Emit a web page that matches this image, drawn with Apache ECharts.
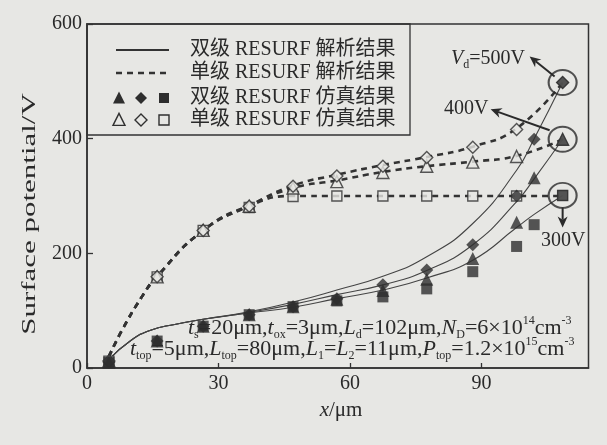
<!DOCTYPE html>
<html>
<head>
<meta charset="utf-8">
<script src="https://cdn.jsdelivr.net/npm/echarts@6/dist/echarts.min.js"></script>
<style>
  html, body { margin: 0; padding: 0; background: #e7e7e4; }
  #main { width: 607px; height: 445px; }
</style>
</head>
<body>
<div id="main"></div>
<script>
// Positions along the drift region (μm) where the simulated potential was sampled
const xSingleSim = [5, 16, 26.5, 37, 47, 57, 67.5, 77.5, 88, 98, 108.5];
const xDoubleSim = [5, 16, 26.5, 37, 47, 57, 67.5, 77.5, 88, 98, 102, 108.5];

// Single RESURF, simulation (V) at Vd = 500 / 400 / 300 V
const singleSim500 = [12, 159, 240, 282, 317, 335, 352, 367, 385, 416, 498];
const singleSim400 = [12, 159, 240, 282, 314, 325, 341, 352, 359, 369, 399];
const singleSim300 = [12, 159, 240, 280, 299, 300, 300, 300, 300, 300, 301];

// Double RESURF, simulation (V)
const doubleSim500 = [10, 47, 73, 93, 107, 121, 145, 171, 215, 300, 399, 498];
const doubleSim400 = [10, 47, 73, 93, 107, 120, 135, 155, 191, 254, 332, 399];
const doubleSim300 = [10, 47, 73, 93, 107, 117, 124, 138, 168, 212, 250, 301];

// Single RESURF, analytic model
const xSingleModel = [5, 8, 12.5, 16, 26.5, 37, 47, 57, 67.5, 77.5, 88, 98, 108.5];
const singleModel500 = [20, 66, 124, 160, 240, 283, 318, 337, 354, 368, 386, 418, 498];
const singleModel400 = [20, 66, 124, 160, 240, 283, 314, 327, 342, 352, 360, 370, 399];
const singleModel300 = [20, 66, 124, 160, 240, 283, 300, 300, 300, 300, 300, 300, 300];

// Double RESURF, analytic model
const xDoubleModel = [5, 10, 14.5, 20, 26.5, 37, 47, 57, 67.5, 77.5, 88, 98, 102, 108.5];
const doubleModel500 = [15, 48, 66, 76, 85, 98, 115, 136, 160, 194, 252, 345, 400, 498];
const doubleModel400 = [15, 48, 66, 76, 85, 97, 111, 128, 145, 170, 215, 290, 330, 399];
const doubleModel300 = [15, 48, 66, 76, 85, 96, 106, 121, 136, 157, 188, 245, 268, 301];

// Axis ticks
const xTicks = [0, 30, 60, 90];
const yTicks = [0, 200, 400, 600];

const INK = '#2a2a2a';
const BG = '#e7e7e4';
const SERIF = "'Liberation Serif','Noto Sans CJK SC'";

function pairs(xs, ys) { return xs.map((x, i) => [x, ys[i]]); }

function modelLine(name, xs, ys, dashed) {
  return {
    name, type: 'line', data: pairs(xs, ys), showSymbol: false, symbol: 'none',
    smooth: 0.5, z: 2,
    lineStyle: dashed ? { color: '#333', width: 2.6, type: [6, 5] } : { color: '#444', width: 1.1 }
  };
}
function simPoints(name, xs, ys, symbol, filled, size, z) {
  return {
    name, type: 'scatter', data: pairs(xs, ys), symbol, symbolSize: size, z,
    itemStyle: filled ? { color: '#2e2e2e' } : { color: BG, borderColor: '#303030', borderWidth: 1.4 }
  };
}

const chart = echarts.init(document.getElementById('main'), null, { renderer: 'canvas' });

const last = a => a[a.length - 1];
const ringData = [
  [last(xDoubleSim), last(doubleSim500)],
  [last(xDoubleSim), last(doubleSim400)],
  [last(xDoubleSim), last(doubleSim300)]
];

const option = {
  animation: false,
  backgroundColor: BG,
  grid: { left: 87, right: 18.5, top: 24, bottom: 77, show: true, borderColor: '#333', borderWidth: 1.5, backgroundColor: 'transparent' },
  xAxis: {
    type: 'value', min: 0, max: 114.4, interval: 30,
    axisLine: { lineStyle: { color: '#333', width: 1.5 } },
    axisTick: { inside: true, length: 5, lineStyle: { color: '#333', width: 1.3 } },
    axisLabel: {
      color: INK, fontFamily: SERIF, fontSize: 20, margin: 6, showMaxLabel: false,
      formatter: v => (xTicks.indexOf(v) >= 0 ? String(v) : '')
    },
    splitLine: { show: false }
  },
  yAxis: {
    type: 'value', min: 0, max: 600, interval: 200,
    axisLine: { lineStyle: { color: '#333', width: 1.5 } },
    axisTick: { inside: true, length: 6, lineStyle: { color: '#333', width: 1.3 } },
    axisLabel: {
      color: INK, fontFamily: SERIF, fontSize: 20, margin: 5,
      formatter: v => (yTicks.indexOf(v) >= 0 ? String(v) : '')
    },
    splitLine: { show: false }
  },
  series: [
    modelLine('单级 500V 解析', xSingleModel, singleModel500, true),
    modelLine('单级 400V 解析', xSingleModel, singleModel400, true),
    modelLine('单级 300V 解析', xSingleModel, singleModel300, true),
    modelLine('双级 500V 解析', xDoubleModel, doubleModel500, false),
    modelLine('双级 400V 解析', xDoubleModel, doubleModel400, false),
    modelLine('双级 300V 解析', xDoubleModel, doubleModel300, false),
    simPoints('单级 300V 仿真', xSingleSim, singleSim300, 'rect', false, 10, 3),
    simPoints('单级 400V 仿真', xSingleSim, singleSim400, 'triangle', false, 12, 3),
    simPoints('单级 500V 仿真', xSingleSim, singleSim500, 'diamond', false, 12, 3),
    simPoints('双级 300V 仿真', xDoubleSim, doubleSim300, 'rect', true, 11, 4),
    simPoints('双级 400V 仿真', xDoubleSim, doubleSim400, 'triangle', true, 13, 4),
    simPoints('双级 500V 仿真', xDoubleSim, doubleSim500, 'diamond', true, 13, 4),
    {
      name: 'Vd', type: 'scatter', data: ringData, symbol: 'circle', symbolSize: [28, 25], z: 5,
      itemStyle: { color: 'rgba(0,0,0,0)', borderColor: '#2a2a2a', borderWidth: 2 }
    }
  ]
};
chart.setOption(option);

// ---- legend, labels and annotations ----
const g = [];

// legend frame shares the plot's top-left corner
g.push({ type: 'rect', shape: { x: 87, y: 24, width: 323, height: 111 }, style: { fill: 'none', stroke: '#333', lineWidth: 1.3 }, z: 10 });
g.push({ type: 'line', shape: { x1: 116, y1: 50, x2: 169, y2: 50 }, style: { stroke: '#333', lineWidth: 2 }, z: 10 });
g.push({ type: 'line', shape: { x1: 116, y1: 73, x2: 169, y2: 73 }, style: { stroke: '#333', lineWidth: 2.6, lineDash: [6, 5] }, z: 10 });

function tri(cx, cy, s) { return [[cx, cy - s * 0.55], [cx + s / 2, cy + s * 0.45], [cx - s / 2, cy + s * 0.45]]; }
function dia(cx, cy, s) { return [[cx, cy - s / 2], [cx + s / 2, cy], [cx, cy + s / 2], [cx - s / 2, cy]]; }
const filled = { fill: '#2e2e2e' };
const hollow = { fill: BG, stroke: '#303030', lineWidth: 1.4 };
[[98, filled], [120, hollow]].forEach(([cy, st]) => {
  g.push({ type: 'polygon', shape: { points: tri(119, cy, 12) }, style: st, z: 10 });
  g.push({ type: 'polygon', shape: { points: dia(141, cy, 12) }, style: st, z: 10 });
  g.push({ type: 'rect', shape: { x: 159, y: cy - 5, width: 10, height: 10 }, style: st, z: 10 });
});
const legendTexts = ['双级 RESURF 解析结果', '单级 RESURF 解析结果', '双级 RESURF 仿真结果', '单级 RESURF 仿真结果'];
const legendY = [50, 73, 98, 120];
legendTexts.forEach((t, i) => {
  g.push({ type: 'text', z: 10, style: { x: 190, y: legendY[i], text: t, font: '20px ' + SERIF, fill: INK, verticalAlign: 'middle', align: 'left' } });
});

// axis titles
g.push({ type: 'text', z: 10, x: 30, y: 214, rotation: Math.PI / 2, scaleX: 1.72,
  style: { x: 0, y: 0, text: 'Surface potential/V', font: '18px ' + SERIF, fill: INK, align: 'center', verticalAlign: 'middle' } });
g.push({ type: 'text', z: 10, style: { x: 341, y: 410, text: '{i|x}{n|/μm}', align: 'center', verticalAlign: 'middle',
  rich: { i: { fontFamily: SERIF, fontSize: 21, fontStyle: 'italic', fill: INK }, n: { fontFamily: SERIF, fontSize: 21, fill: INK } } } });

// device parameters
const paramRich = {
  n: { fontFamily: SERIF, fontSize: 22, fill: INK, lineHeight: 26, verticalAlign: 'middle' },
  i: { fontFamily: SERIF, fontSize: 22, fontStyle: 'italic', fill: INK, lineHeight: 26, verticalAlign: 'middle' },
  sb: { fontFamily: SERIF, fontSize: 12, fill: INK, lineHeight: 12, verticalAlign: 'bottom' },
  sp: { fontFamily: SERIF, fontSize: 12, fill: INK, lineHeight: 20, verticalAlign: 'top' }
};
const paramLine1 = '{i|t}{sb|s}{n|=20μm,}{i|t}{sb|ox}{n|=3μm,}{i|L}{sb|d}{n|=102μm,}{i|N}{sb|D}{n|=6×10}{sp|14}{n|cm}{sp|-3}';
const paramLine2 = '{i|t}{sb|top}{n|=5μm,}{i|L}{sb|top}{n|=80μm,}{i|L}{sb|1}{n|=}{i|L}{sb|2}{n|=11μm,}{i|P}{sb|top}{n|=1.2×10}{sp|15}{n|cm}{sp|-3}';
g.push({ type: 'text', z: 10, style: { x: 188, y: 328, text: paramLine1, rich: paramRich, align: 'left', verticalAlign: 'middle' } });
g.push({ type: 'text', z: 10, style: { x: 130, y: 349, text: paramLine2, rich: paramRich, align: 'left', verticalAlign: 'middle' } });

// drain-voltage callouts
const labelRich = {
  n: { fontFamily: SERIF, fontSize: 20, fill: INK, lineHeight: 24, verticalAlign: 'middle' },
  i: { fontFamily: SERIF, fontSize: 20, fontStyle: 'italic', fill: INK, lineHeight: 24, verticalAlign: 'middle' },
  sb: { fontFamily: SERIF, fontSize: 12, fill: INK, lineHeight: 12, verticalAlign: 'bottom' }
};
g.push({ type: 'text', z: 10, style: { x: 451, y: 59, text: '{i|V}{sb|d}{n|=500V}', rich: labelRich, align: 'left', verticalAlign: 'middle' } });
g.push({ type: 'text', z: 10, style: { x: 444, y: 109, text: '{n|400V}', rich: labelRich, align: 'left', verticalAlign: 'middle' } });
g.push({ type: 'text', z: 10, style: { x: 541, y: 241, text: '{n|300V}', rich: labelRich, align: 'left', verticalAlign: 'middle' } });

function arrow(x1, y1, x2, y2) {
  const a = Math.atan2(y2 - y1, x2 - x1);
  const L = 11, W = 5;
  const bx = x2 - L * Math.cos(a), by = y2 - L * Math.sin(a);
  const nx = -Math.sin(a) * W, ny = Math.cos(a) * W;
  const mx = x2 - L * 0.7 * Math.cos(a), my = y2 - L * 0.7 * Math.sin(a);
  return [
    { type: 'line', z: 10, shape: { x1, y1, x2: mx, y2: my }, style: { stroke: INK, lineWidth: 2 } },
    { type: 'polygon', z: 10, shape: { points: [[x2, y2], [bx + nx, by + ny], [mx, my], [bx - nx, by - ny]] }, style: { fill: INK } }
  ];
}
const p500 = chart.convertToPixel({ gridIndex: 0 }, ringData[0]);
const p400 = chart.convertToPixel({ gridIndex: 0 }, ringData[1]);
const p300 = chart.convertToPixel({ gridIndex: 0 }, ringData[2]);
g.push(...arrow(p500[0] - 8, p500[1] - 6, p500[0] - 33, p500[1] - 26));
g.push(...arrow(p400[0] - 13, p400[1] - 9, p400[0] - 72, p400[1] - 30));
g.push(...arrow(p300[0], p300[1] + 12, p300[0], p300[1] + 32));

chart.setOption({ graphic: { elements: g } });
</script>
</body>
</html>
